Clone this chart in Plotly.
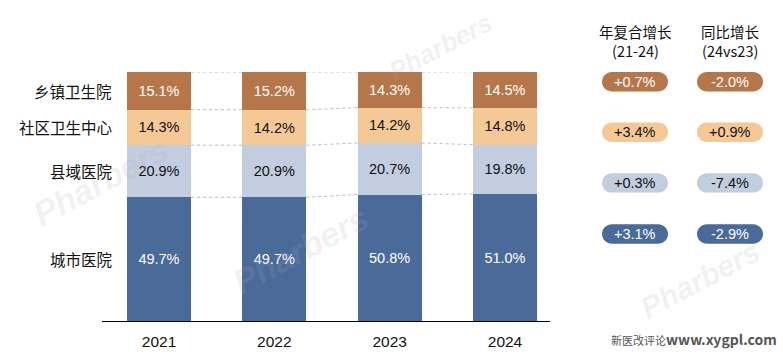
import plotly.graph_objects as go

# ---------------- data ----------------
years = ["2021", "2022", "2023", "2024"]
categories = ["城市医院", "县域医院", "社区卫生中心", "乡镇卫生院"]  # bottom -> top
city_hosp = [49.7, 49.7, 50.8, 51.0]
county_hosp = [20.9, 20.9, 20.7, 19.8]
community = [14.3, 14.2, 14.2, 14.8]
township = [15.1, 15.2, 14.3, 14.5]
cagr_labels = ["+3.1%", "+0.3%", "+3.4%", "+0.7%"]   # same order as categories
yoy_labels = ["-2.9%", "-7.4%", "+0.9%", "-2.0%"]
header_cagr = ["年复合增长", "(21-24)"]
header_yoy = ["同比增长", "(24vs23)"]
footer_cn = "新医改评论"
footer_url = "www.xygpl.com"
watermark = "Pharbers"

series = [city_hosp, county_hosp, community, township]
colors = ["#4A6A9A", "#C2CDE0", "#F5C996", "#B5774A"]
text_colors = ["#FFFFFF", "#111111", "#111111", "#FFFFFF"]

# ---------------- layout geometry (pixels) ----------------
W, H = 783, 362
L, R, T, B = 102, 550, 72, 328
BAR_W = 0.555
FONT = "Liberation Sans, Arial, Noto Sans CJK SC, sans-serif"
CJK = "Noto Sans CJK SC, Liberation Sans, sans-serif"


def px(xp):
    return (xp - L) / (R - L)


def py(yp):
    return (B - yp) / (B - T)


xs = list(range(len(years)))
fig = go.Figure()

# stacked bars
for cat, vals, col, tcol in zip(categories, series, colors, text_colors):
    fig.add_trace(go.Bar(
        x=xs, y=vals, name=cat, width=BAR_W,
        marker=dict(color=col, line=dict(width=0)),
        text=[f"{v:.1f}%" for v in vals], textposition="inside",
        insidetextanchor="middle", textangle=0, constraintext="none",
        textfont=dict(family=FONT, size=14.5, color=tcol),
        hoverinfo="skip", showlegend=False,
    ))

# cumulative tops for connectors
cums = []
run = [0.0] * len(years)
for vals in series:
    run = [a + b for a, b in zip(run, vals)]
    cums.append(run[:])

for level in cums:
    for i in range(len(years) - 1):
        fig.add_trace(go.Scatter(
            x=[xs[i] + BAR_W / 2, xs[i + 1] - BAR_W / 2],
            y=[level[i], level[i + 1]], mode="lines",
            line=dict(color="#BBBBBB", width=1, dash="dot"),
            hoverinfo="skip", showlegend=False,
        ))

annotations = []

# faint watermarks (drawn first, under other annotations)
for wx, wy, ws in [(440, 46, 26), (100, 185, 34), (300, 255, 34), (700, 285, 30)]:
    annotations.append(dict(
        xref="paper", yref="paper", x=px(wx), y=py(wy), text=f"<b><i>{watermark}</i></b>",
        showarrow=False, xanchor="center", yanchor="middle", textangle=-28,
        font=dict(family=FONT, size=ws, color="rgba(170,170,185,0.16)"),
    ))

# category labels beside first bar
prev = 0.0
for cat, vals in zip(categories, series):
    mid = prev + vals[0] / 2
    prev += vals[0]
    annotations.append(dict(
        xref="paper", yref="y", x=px(114), y=mid, text=cat, showarrow=False,
        xanchor="right", yanchor="middle",
        font=dict(family=CJK, size=15.5, color="#111111"),
    ))

# headers
col_x = [635, 730]
for cx, hdr in zip(col_x, [header_cagr, header_yoy]):
    for line, yy in zip(hdr, [30, 50]):
        annotations.append(dict(
            xref="paper", yref="paper", x=px(cx), y=py(yy), text=line,
            showarrow=False, xanchor="center", yanchor="middle",
            font=dict(family=CJK, size=14.5, color="#111111"),
        ))

# pills
shapes = []
row_y = [238.5, 186, 134, 82]  # bottom category -> top category
PW, PH = 66, 20
K = 0.5523


def pill_path(cx, cy):
    r = PH / 2
    x0, x1 = cx - PW / 2, cx + PW / 2
    y0, y1 = cy - PH / 2, cy + PH / 2
    pts = [
        f"M{px(x0 + r)},{py(y0)}",
        f"L{px(x1 - r)},{py(y0)}",
        f"C{px(x1 - r + K * r)},{py(y0)} {px(x1)},{py(cy - K * r)} {px(x1)},{py(cy)}",
        f"C{px(x1)},{py(cy + K * r)} {px(x1 - r + K * r)},{py(y1)} {px(x1 - r)},{py(y1)}",
        f"L{px(x0 + r)},{py(y1)}",
        f"C{px(x0 + r - K * r)},{py(y1)} {px(x0)},{py(cy + K * r)} {px(x0)},{py(cy)}",
        f"C{px(x0)},{py(cy - K * r)} {px(x0 + r - K * r)},{py(y0)} {px(x0 + r)},{py(y0)}",
        "Z",
    ]
    return " ".join(pts)


for k in range(len(categories)):
    for cx, labels in zip(col_x, [cagr_labels, yoy_labels]):
        shapes.append(dict(type="path", xref="paper", yref="paper",
                           path=pill_path(cx, row_y[k]), fillcolor=colors[k],
                           line=dict(width=0), layer="above"))
        annotations.append(dict(
            xref="paper", yref="paper", x=px(cx), y=py(row_y[k]), text=labels[k],
            showarrow=False, xanchor="center", yanchor="middle",
            font=dict(family=FONT, size=14.5, color=text_colors[k]),
        ))

# footer
annotations.append(dict(
    xref="paper", yref="paper", x=px(779), y=py(346),
    text=f'<span style="font-size:11px">{footer_cn}</span><b>{footer_url}</b>',
    showarrow=False, xanchor="right", yanchor="middle",
    font=dict(family=CJK, size=14, color="#555555"),
))

fig.update_layout(
    width=W, height=H, barmode="stack",
    margin=dict(l=L, r=W - R, t=T, b=H - B, pad=0),
    paper_bgcolor="white", plot_bgcolor="white",
    shapes=shapes, annotations=annotations,
    xaxis=dict(range=[(L - 159) / 115.33, (R - 159) / 115.33],
               tickmode="array", tickvals=xs, ticktext=years,
               showline=True, linecolor="#000000", linewidth=1,
               showgrid=False, zeroline=False, ticks="",
               tickfont=dict(family=FONT, size=15.5, color="#111111"),
               ticklabelstandoff=6, fixedrange=True),
    yaxis=dict(range=[0, 100], visible=False, fixedrange=True),
    font=dict(family=FONT),
)

fig.write_html("out.html", post_script="document.body.style.margin='0';",
               config={"displayModeBar": False})
